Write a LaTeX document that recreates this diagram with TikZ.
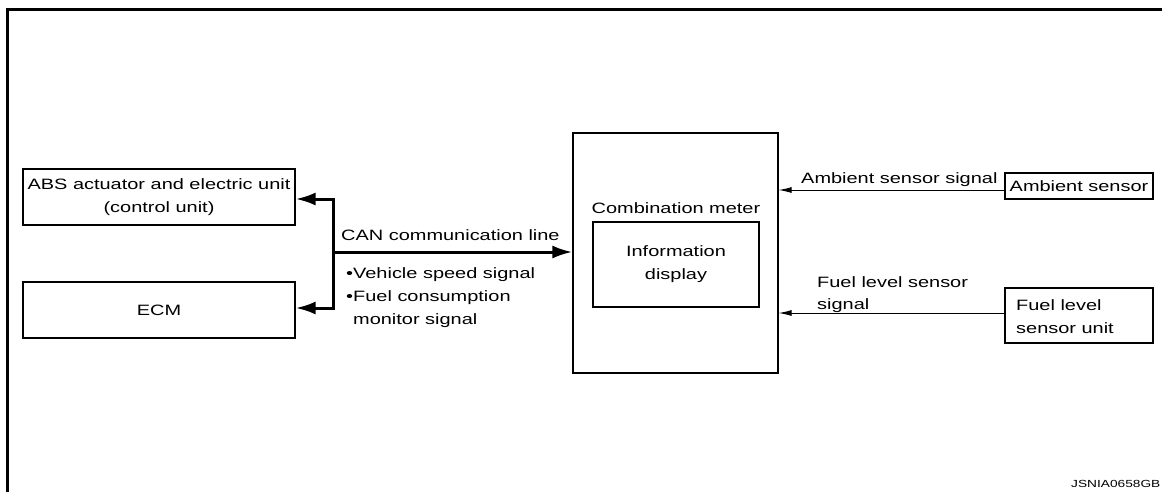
\documentclass[tikz,border=0pt]{standalone}
\usepackage{fontspec}
\setmainfont{Liberation Sans}[FakeStretch=1.33]
\usetikzlibrary{arrows.meta}
\begin{document}
\begin{tikzpicture}[x=1pt,y=-1pt,
  font=\fontsize{15}{23}\selectfont,
  box/.style={draw, line width=1.2pt, inner sep=0pt, align=center},
  lbl/.style={inner sep=0pt, anchor=base west},
  bus/.style={line width=3pt, line join=miter},
  sig/.style={line width=1pt},
  bigtip/.style={-{Latex[length=20pt,width=13pt]}},
  smalltip/.style={-{Latex[length=13pt,width=6pt]}}]
\useasboundingbox (0,0) rectangle (1162,491);
% frame
\draw[line width=3pt] (7,496) -- (7,9) -- (1168,9);
% boxes
\node[box, minimum width=272pt, minimum height=56pt] (abs) at (159,197) {ABS actuator and electric unit\\(control unit)};
\node[box, minimum width=272pt, minimum height=56pt] (ecm) at (159,310) {ECM};
\node[box, minimum width=205pt, minimum height=240pt] (cm) at (675.5,253) {};
\node[box, minimum width=166pt, minimum height=85pt] (info) at (676,264.5) {Information\\display};
\node[box, minimum width=148pt, minimum height=26pt] (amb) at (1079,186) {Ambient sensor};
\node[box, minimum width=148pt, minimum height=55pt] (fuel) at (1079,315.5) {};
% labels
\node[inner sep=0pt, anchor=base] (cmlbl) at (676,213) {Combination meter};
\node[lbl] (fuell1) at (1016,310) {Fuel level};
\node[lbl] (fuell2) at (1016,333) {sensor unit};
\node[lbl] (can) at (341,240) {CAN communication line};
\node[lbl] (b1) at (346,278) {•Vehicle speed signal};
\node[lbl] (b2) at (346,301) {•Fuel consumption};
\node[lbl] (b3) at (346,324) {\hphantom{•}monitor signal};
\node[lbl] (ambsig) at (801,183) {Ambient sensor signal};
\node[lbl] (fsig1) at (817,287) {Fuel level sensor};
\node[lbl] (fsig2) at (817,309) {signal};
\node[lbl, font=\fontsize{10.3}{12}\selectfont] (code) at (1071,487) {JSNIA0658GB};
% bus
\coordinate (jt) at (333,199);
\coordinate (jb) at (333,308);
\coordinate (jm) at (333,252);
\draw[bus, {Latex[length=20pt,width=13pt]}-{Latex[length=20pt,width=13pt]}]
  (abs.east |- jt) -- (jt) -- (jb) -- (ecm.east |- jb);
\draw[bus, bigtip] (jm) -- (cm.west |- jm);
% sensor signals
\coordinate (ay) at (0,190);
\coordinate (fy) at (0,313);
\draw[sig, smalltip] (amb.west |- ay) -- (cm.east |- ay);
\draw[sig, smalltip] (fuel.west |- fy) -- (cm.east |- fy);
\end{tikzpicture}
\end{document}
